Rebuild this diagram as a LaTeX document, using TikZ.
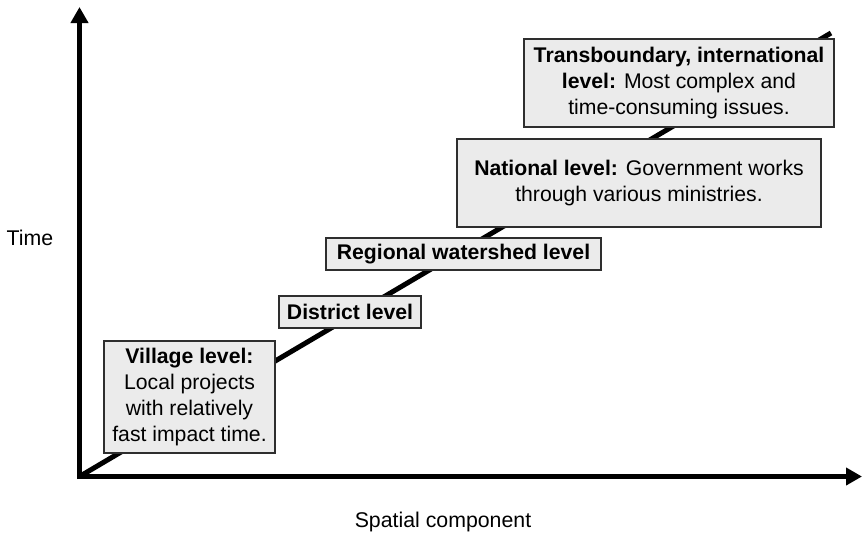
\documentclass[tikz,border=0pt]{standalone}
\usepackage{fontspec}
\setmainfont{Liberation Sans}
\usetikzlibrary{arrows.meta}
\definecolor{boxfill}{HTML}{EBEBEB}
\definecolor{boxline}{HTML}{2E2E2E}
\begin{document}
\begin{tikzpicture}[x=1pt,y=-1pt,
  axis/.style={line width=5pt,-{Triangle[width=17pt,length=16pt]}},
  trend/.style={line width=5pt},
  levelbox/.style={draw=boxline,line width=1.2pt,fill=boxfill,align=center,
    inner sep=0pt,font=\fontsize{21.2}{26}\selectfont},
  axislabel/.style={font=\fontsize{21.3}{25}\selectfont,inner sep=0pt,anchor=base}]
\useasboundingbox (0,0) rectangle (862,533);
% axes and the rising trend line
\coordinate (O) at (79.5,476.5);
\coordinate (ytip) at (79.5,7);
\coordinate (xtip) at (862,476.5);
\coordinate (top) at (831,33);
\draw[trend] (O) -- (top);
\draw[axis] (79.5,479) -- (ytip);
\draw[axis] (77,476.5) -- (xtip);
% level boxes along the trend line
\node[levelbox,minimum width=171pt,minimum height=112pt] (village) at (189.5,397)
  {\textbf{Village level:}\\Local projects\\with relatively\\fast impact time.};
\node[levelbox,minimum width=142pt,minimum height=32pt] (district) at (350,312)
  {\textbf{District level}};
\node[levelbox,minimum width=275pt,minimum height=32pt] (regional) at (463.5,254)
  {\textbf{Regional watershed level}};
\node[levelbox,minimum width=364pt,minimum height=88pt] (national) at (639,183)
  {\textbf{National level:} Government works\\through various ministries.};
\node[levelbox,minimum width=310pt,minimum height=88pt] (trans) at (679,83)
  {\textbf{Transboundary, international}\\\textbf{level:} Most complex and\\time-consuming issues.};
% axis labels
\node[axislabel] (time) at (30,245) {Time};
\node[axislabel] (space) at (443,527) {Spatial component};
\end{tikzpicture}
\end{document}
